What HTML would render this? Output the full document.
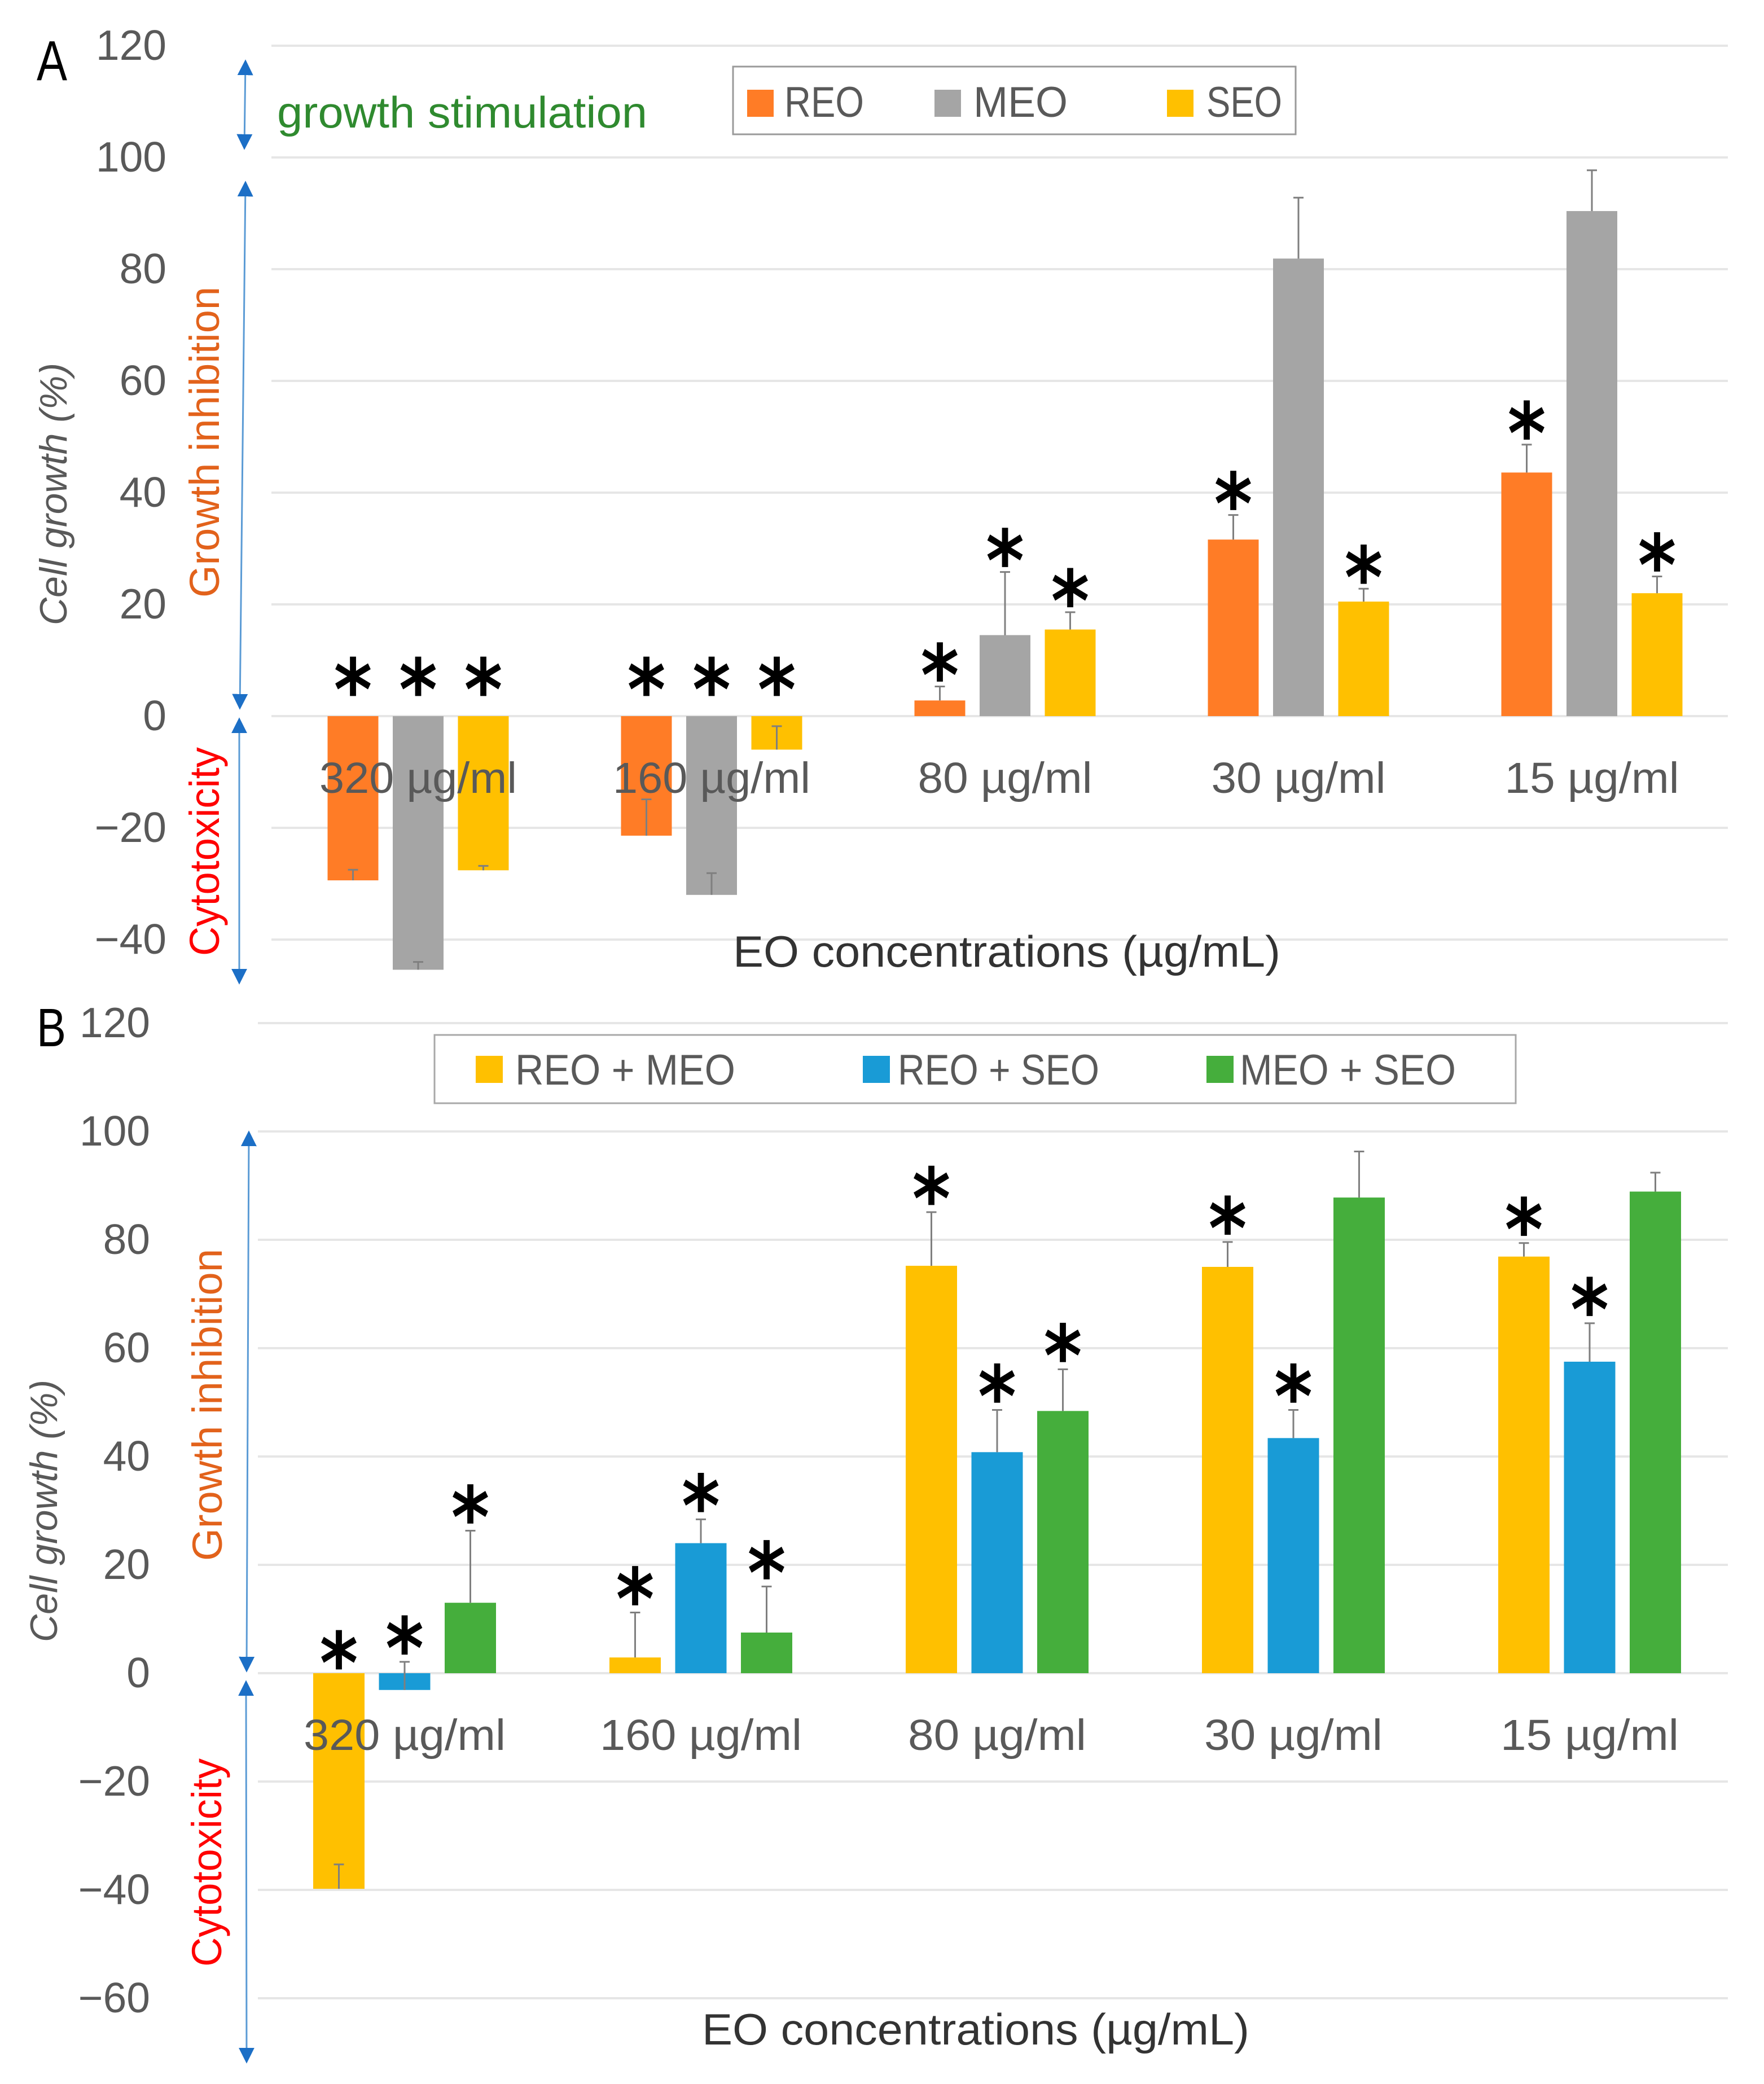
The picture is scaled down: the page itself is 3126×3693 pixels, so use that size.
<!DOCTYPE html>
<html lang="en">
<head>
<meta charset="utf-8">
<title>Cell growth by EO concentration</title>
<style>
html,body{margin:0;padding:0;background:#fff;}
svg{display:block;}
text{font-family:"Liberation Sans",sans-serif;}
</style>
</head>
<body>
<svg id="figure" xmlns="http://www.w3.org/2000/svg" width="3126" height="3693" viewBox="0 0 3126 3693">
<defs>
<marker id="arrow-head" viewBox="0 0 10 10" refX="9" refY="5" markerUnits="userSpaceOnUse" markerWidth="28" markerHeight="28" orient="auto-start-reverse"><path d="M0,0 L10,5 L0,10 Z" fill="#1c6fc6"/></marker>
</defs>
<rect width="3126" height="3693" fill="#ffffff"/>
<g id="panel-a"></g>
<g id="panel-b"></g>

<g>
<text x="65" y="142" font-size="100" textLength="54" lengthAdjust="spacingAndGlyphs" fill="#000">A</text>
<text x="491" y="226" font-size="78" textLength="656" lengthAdjust="spacingAndGlyphs" fill="#2f8a2f">growth stimulation</text>
<line x1="435" y1="108" x2="433" y2="263" stroke="#5b9bd5" stroke-width="3" marker-start="url(#arrow-head)" marker-end="url(#arrow-head)"/>
<line x1="435" y1="323" x2="425" y2="1255" stroke="#5b9bd5" stroke-width="3" marker-start="url(#arrow-head)" marker-end="url(#arrow-head)"/>
<line x1="424" y1="1274" x2="424" y2="1742" stroke="#5b9bd5" stroke-width="3" marker-start="url(#arrow-head)" marker-end="url(#arrow-head)"/>
<text transform="translate(118,1108) rotate(-90)" font-size="68" font-style="italic" textLength="465" lengthAdjust="spacingAndGlyphs" fill="#595959">Cell growth (%)</text>
<text transform="translate(388,1059) rotate(-90)" font-size="74" textLength="551" lengthAdjust="spacingAndGlyphs" fill="#e2621b">Growth inhibition</text>
<text transform="translate(388,1694) rotate(-90)" font-size="74" textLength="370" lengthAdjust="spacingAndGlyphs" fill="#ff0000">Cytotoxicity</text>
<text x="1299" y="1713" font-size="78" textLength="970" lengthAdjust="spacingAndGlyphs" fill="#333333">EO concentrations (µg/mL)</text>
<g>
<rect x="1299" y="118" width="997" height="120" fill="#ffffff" stroke="#9a9a9a" stroke-width="3"/>
<rect x="1324" y="159" width="47" height="48" fill="#ff7c26"/>
<text x="1390" y="207" font-size="76" textLength="141" lengthAdjust="spacingAndGlyphs" fill="#595959">REO</text>
<rect x="1656" y="159" width="47" height="48" fill="#a5a5a5"/>
<text x="1725" y="207" font-size="76" textLength="167" lengthAdjust="spacingAndGlyphs" fill="#595959">MEO</text>
<rect x="2068" y="159" width="47" height="48" fill="#ffc000"/>
<text x="2138" y="207" font-size="76" textLength="134" lengthAdjust="spacingAndGlyphs" fill="#595959">SEO</text>
</g>
</g>

<g>
<text x="65" y="1854" font-size="96" textLength="52" lengthAdjust="spacingAndGlyphs" fill="#000">B</text>
<line x1="441" y1="2006" x2="437" y2="2961" stroke="#5b9bd5" stroke-width="3" marker-start="url(#arrow-head)" marker-end="url(#arrow-head)"/>
<line x1="436" y1="2980" x2="437" y2="3654" stroke="#5b9bd5" stroke-width="3" marker-start="url(#arrow-head)" marker-end="url(#arrow-head)"/>
<text transform="translate(101,2910) rotate(-90)" font-size="68" font-style="italic" textLength="465" lengthAdjust="spacingAndGlyphs" fill="#595959">Cell growth (%)</text>
<text transform="translate(393,2766) rotate(-90)" font-size="74" textLength="553" lengthAdjust="spacingAndGlyphs" fill="#e2621b">Growth inhibition</text>
<text transform="translate(392,3485) rotate(-90)" font-size="74" textLength="369" lengthAdjust="spacingAndGlyphs" fill="#ff0000">Cytotoxicity</text>
<text x="1244" y="3623" font-size="78" textLength="970" lengthAdjust="spacingAndGlyphs" fill="#333333">EO concentrations (µg/mL)</text>
<g>
<rect x="770" y="1834" width="1916" height="121" fill="#ffffff" stroke="#a8a8a8" stroke-width="3"/>
<rect x="843" y="1871" width="48" height="48" fill="#ffc000"/>
<text x="913" y="1922" font-size="76" textLength="390" lengthAdjust="spacingAndGlyphs" fill="#595959">REO + MEO</text>
<rect x="1529" y="1871" width="48" height="48" fill="#199bd6"/>
<text x="1591" y="1922" font-size="76" textLength="357" lengthAdjust="spacingAndGlyphs" fill="#595959">REO + SEO</text>
<rect x="2138" y="1871" width="48" height="48" fill="#45ae3c"/>
<text x="2197" y="1922" font-size="76" textLength="383" lengthAdjust="spacingAndGlyphs" fill="#595959">MEO + SEO</text>
</g>
</g>
</svg>
<script>
const categories = ['320 µg/ml', '160 µg/ml', '80 µg/ml', '30 µg/ml', '15 µg/ml'];
const tickValuesA = [120, 100, 80, 60, 40, 20, 0, -20, -40];
const tickValuesB = [120, 100, 80, 60, 40, 20, 0, -20, -40, -60];

const reoValues = [-29.4, -21.4, 2.8, 31.6, 43.6];
const reoErrorTips = [-27.5, -14.9, 5.3, 36, 48.6];
const reoStars = [1, 1, 1, 1, 1];
const meoValues = [-45.4, -32, 14.5, 81.9, 90.4];
const meoErrorTips = [-44, -28.1, 25.8, 92.8, 97.7];
const meoStars = [1, 1, 1, 0, 0];
const seoValues = [-27.6, -6, 15.5, 20.5, 22];
const seoErrorTips = [-26.8, -1.8, 18.6, 22.8, 25];
const seoStars = [1, 1, 1, 1, 1];

const reoMeoValues = [-39.8, 2.9, 75.2, 75, 76.9];
const reoMeoErrorTips = [-35.3, 11.2, 85.1, 79.6, 79.4];
const reoMeoStars = [1, 1, 1, 1, 1];
const reoSeoValues = [-3.1, 24, 40.8, 43.4, 57.5];
const reoSeoErrorTips = [2.1, 28.4, 48.6, 48.6, 64.6];
const reoSeoStars = [1, 1, 1, 1, 1];
const meoSeoValues = [13, 7.5, 48.4, 87.8, 88.9];
const meoSeoErrorTips = [26.3, 16, 56.1, 96.3, 92.4];
const meoSeoStars = [1, 1, 1, 0, 0];

const SVGNS = 'http://www.w3.org/2000/svg';

function make(parent, tag, attrs, text) {
  const el = document.createElementNS(SVGNS, tag);
  for (const k in attrs) el.setAttribute(k, attrs[k]);
  if (text !== undefined) el.textContent = text;
  parent.appendChild(el);
  return el;
}

function drawPanel(root, cfg) {
  const yScale = v => cfg.zeroY - cfg.unit * v;
  const xBand = i => cfg.firstGroup + i * cfg.groupStep;
  const xBar = (i, s) => xBand(i) + (s - 1) * cfg.barStep;

  cfg.ticks.forEach(t => {
    const grid = make(root, 'line', {x1: cfg.gridLeft, x2: 3062, y1: yScale(t), y2: yScale(t), stroke: '#e6e6e6', 'stroke-width': 4});
    
    
    const label = make(root, 'text', {x: cfg.tickRight, y: yScale(t) + 25, 'text-anchor': 'end', 'font-size': 75, fill: '#595959'}, String(t).replace('-', '\u2212'));
    
    
  });

  cfg.series.forEach((ser, s) => {
    categories.forEach((c, i) => {
      const v = ser.values[i];
      const x = xBar(i, s);
      const bar = make(root, 'rect', {x: x - cfg.barWidth / 2, width: cfg.barWidth, y: Math.min(yScale(v), yScale(0)), height: Math.abs(yScale(v) - yScale(0)), fill: ser.color});
      
      
      const tip = ser.tips[i];
      const err = make(root, 'path', {d: 'M' + x + ',' + yScale(v) + 'V' + yScale(tip) + 'M' + (x - 9) + ',' + yScale(tip) + 'H' + (x + 9), fill: 'none', stroke: '#7f7f7f', 'stroke-width': 3});
      
      
    });
  });

  categories.forEach((c, i) => {
    const width = c.length === 9 ? cfg.labelWideLen : cfg.labelNarrowLen;
    const label = make(root, 'text', {x: xBand(i) - width / 2, y: cfg.labelY, 'font-size': 77, fill: '#595959', textLength: width, lengthAdjust: 'spacingAndGlyphs'}, c);
    
    
  });

  cfg.series.forEach((ser, s) => {
    categories.forEach((c, i) => {
      if (!ser.stars[i]) return;
      const tip = ser.tips[i];
      const cy = tip < 0 ? yScale(0) - cfg.negStarGap : yScale(tip) - cfg.posStarGap;
      const star = make(root, 'text', {x: xBar(i, s) - cfg.starLen / 2, y: cy + cfg.starDrop, textLength: cfg.starLen, lengthAdjust: 'spacingAndGlyphs', 'font-size': cfg.starSize, 'font-weight': 'bold', fill: '#000', style: 'font-family:"DejaVu Sans",sans-serif'}, '*');
      
      
    });
  });
}

drawPanel(document.getElementById('panel-a'), {
  zeroY: 1269, unit: 9.9, ticks: tickValuesA, gridLeft: 481, tickRight: 295,
  firstGroup: 741, groupStep: 520, barStep: 115.5, barWidth: 90, labelY: 1405,
  labelWideLen: 350, labelNarrowLen: 309, posStarGap: 45, negStarGap: 72, starDrop: 78, starSize: 150, starLen: 68,
  series: [
    {name: 'reo', color: '#ff7c26', values: reoValues, tips: reoErrorTips, stars: reoStars},
    {name: 'meo', color: '#a5a5a5', values: meoValues, tips: meoErrorTips, stars: meoStars},
    {name: 'seo', color: '#ffc000', values: seoValues, tips: seoErrorTips, stars: seoStars}
  ]
});

drawPanel(document.getElementById('panel-b'), {
  zeroY: 2965, unit: 9.6, ticks: tickValuesB, gridLeft: 457, tickRight: 266,
  firstGroup: 717, groupStep: 525, barStep: 116.5, barWidth: 91, labelY: 3101,
  labelWideLen: 358, labelNarrowLen: 316, posStarGap: 49, negStarGap: 43, starDrop: 78, starSize: 150, starLen: 68,
  series: [
    {name: 'reo-meo', color: '#ffc000', values: reoMeoValues, tips: reoMeoErrorTips, stars: reoMeoStars},
    {name: 'reo-seo', color: '#199bd6', values: reoSeoValues, tips: reoSeoErrorTips, stars: reoSeoStars},
    {name: 'meo-seo', color: '#45ae3c', values: meoSeoValues, tips: meoSeoErrorTips, stars: meoSeoStars}
  ]
});
</script>
</body>
</html>
